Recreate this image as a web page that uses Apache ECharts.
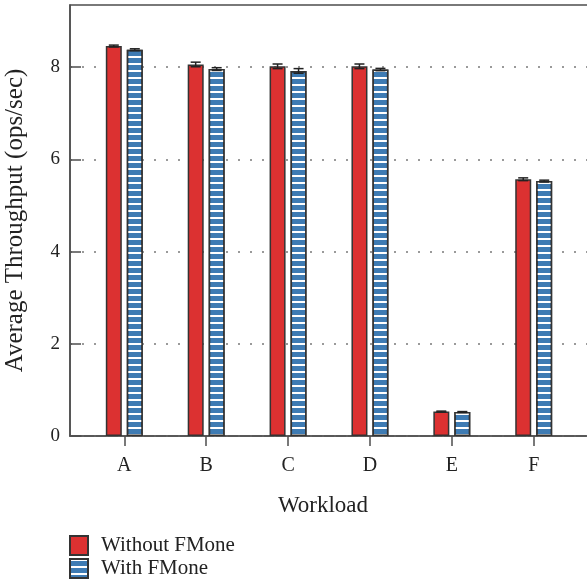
<!DOCTYPE html>
<html>
<head>
<meta charset="utf-8">
<script src="https://cdn.jsdelivr.net/npm/echarts@6/dist/echarts.min.js"></script>
<style>
html,body{margin:0;padding:0;background:#fff;}
#chart{width:587px;height:582px;}
</style>
</head>
<body>
<div id="chart"></div>
<script>
// ---- data ----
const categories = ['A', 'B', 'C', 'D', 'E', 'F'];
const withoutFMone = [8.46, 8.06, 8.02, 8.02, 0.53, 5.57];
const withFMone = [8.38, 7.96, 7.92, 7.95, 0.52, 5.53];
const withoutFMoneErr = [0.02, 0.05, 0.05, 0.05, 0.01, 0.03];
const withFMoneErr = [0.02, 0.03, 0.05, 0.025, 0.01, 0.02];
const yTicks = [0, 2, 4, 6, 8];
const seriesNames = ['Without FMone', 'With FMone'];

// ---- build ----
const positions = categories.map((c, i) => i + 1);
const FONT = 'Liberation Serif';
const AXIS_COLOR = '#4d4d4d';
const RED = '#dc3131';
const BLUE = '#3e7bb3';
const BAR_OFFSET = 10.5;

function barData(vals) {
  return vals.map((v, i) => [positions[i], v]);
}
function errData(vals, errs) {
  return vals.map((v, i) => [positions[i], v - errs[i], v + errs[i]]);
}
function errRender(offset) {
  return function (params, api) {
    const x = api.value(0);
    const lo = api.coord([x, api.value(1)]);
    const hi = api.coord([x, api.value(2)]);
    const cx = lo[0] + offset;
    const cap = 5;
    const style = { stroke: '#222', lineWidth: 1.5 };
    return {
      type: 'group',
      children: [
        { type: 'line', shape: { x1: cx, y1: lo[1], x2: cx, y2: hi[1] }, style: style },
        { type: 'line', shape: { x1: cx - cap, y1: lo[1], x2: cx + cap, y2: lo[1] }, style: style },
        { type: 'line', shape: { x1: cx - cap, y1: hi[1], x2: cx + cap, y2: hi[1] }, style: style }
      ]
    };
  };
}

const chart = echarts.init(document.getElementById('chart'));
chart.setOption({
  animation: false,
  backgroundColor: '#fff',
  textStyle: { fontFamily: FONT },
  grid: {
    left: 70, top: 5, width: 518, bottom: 146,
    outerBoundsMode: 'none',
    containLabel: false,
    show: true, borderColor: AXIS_COLOR, borderWidth: 1.5, backgroundColor: 'transparent'
  },
  legend: {
    orient: 'vertical',
    left: 69, top: 535,
    padding: 0,
    itemWidth: 18, itemHeight: 19, itemGap: 2,
    icon: 'rect',
    textStyle: { fontFamily: FONT, fontSize: 21, color: '#222', padding: [0, 0, 0, 8] },
    data: seriesNames
  },
  xAxis: {
    type: 'value',
    min: 0.337, max: 6.663,
    name: 'Workload',
    nameLocation: 'middle',
    nameGap: 58,
    nameTextStyle: { fontFamily: FONT, fontSize: 23, color: '#222', padding: [0, 12, 0, 0] },
    axisLine: { show: true, lineStyle: { color: AXIS_COLOR, width: 1.5 } },
    axisTick: { show: true, inside: false, length: 10, customValues: positions, lineStyle: { color: AXIS_COLOR, width: 1.5 } },
    axisLabel: {
      customValues: positions,
      margin: 20,
      fontFamily: FONT, fontSize: 20, color: '#222',
      formatter: function (v) { return categories[Math.round(v) - 1] || ''; }
    },
    splitLine: { show: false }
  },
  yAxis: {
    type: 'value',
    min: 0, max: 9.35,
    name: 'Average Throughput (ops/sec)',
    nameLocation: 'middle',
    nameGap: 42,
    nameTextStyle: { fontFamily: FONT, fontSize: 25, color: '#222' },
    axisLine: { show: true, lineStyle: { color: AXIS_COLOR, width: 1.5 } },
    axisTick: { show: true, inside: true, length: 11, customValues: yTicks, lineStyle: { color: AXIS_COLOR, width: 1.5 } },
    axisLabel: {
      customValues: yTicks,
      margin: 10,
      fontFamily: FONT, fontSize: 19, color: '#222'
    },
    splitLine: { show: true, customValues: yTicks, lineStyle: { color: '#9a9a9a', width: 2, type: [2, 10] } }
  },
  series: [
    {
      name: seriesNames[0],
      type: 'bar',
      data: barData(withoutFMone),
      barWidth: 16,
      barGap: '31%',
      itemStyle: { color: RED, borderColor: '#333', borderWidth: 1.5 }
    },
    {
      name: seriesNames[1],
      type: 'bar',
      data: barData(withFMone),
      barWidth: 16,
      barGap: '31%',
      itemStyle: {
        color: BLUE, borderColor: '#333', borderWidth: 1.5,
        decal: {
          symbol: 'rect',
          symbolSize: 1,
          color: '#ffffff',
          backgroundColor: null,
          dashArrayX: [1, 0],
          dashArrayY: [1.3, 4.9],
          rotation: 0
        }
      }
    },
    {
      name: 'errWithout',
      type: 'custom',
      renderItem: errRender(-BAR_OFFSET),
      data: errData(withoutFMone, withoutFMoneErr),
      z: 5
    },
    {
      name: 'errWith',
      type: 'custom',
      renderItem: errRender(BAR_OFFSET),
      data: errData(withFMone, withFMoneErr),
      z: 5
    }
  ]
});
</script>
</body>
</html>
